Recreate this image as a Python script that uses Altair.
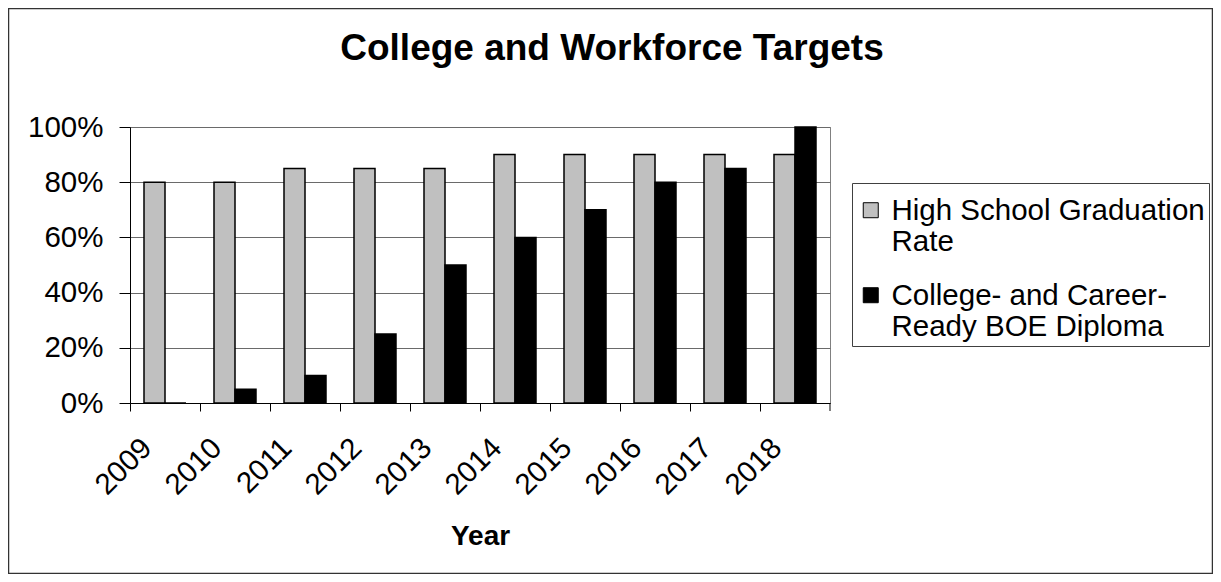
import altair as alt
import pandas as pd

years = ["2009", "2010", "2011", "2012", "2013", "2014", "2015", "2016", "2017", "2018"]
grad_rate = [0.80, 0.80, 0.85, 0.85, 0.85, 0.90, 0.90, 0.90, 0.90, 0.90]
diploma = [0.00, 0.05, 0.10, 0.25, 0.50, 0.60, 0.70, 0.80, 0.85, 1.00]
series = ["High School Graduation Rate", "College- and Career-Ready BOE Diploma"]
series_colors = ["#C0C0C0", "#000000"]
y_ticks = [0.0, 0.2, 0.4, 0.6, 0.8, 1.0]

rows = []
for i, yr in enumerate(years):
    rows.append({"Year": yr, "Series": series[0], "Value": grad_rate[i]})
    rows.append({"Year": yr, "Series": series[1], "Value": diploma[i]})
df = pd.DataFrame(rows)

FONT = "Liberation Sans"

label_expr = (
    "datum.label == 'High School Graduation Rate' ? ['High School Graduation', 'Rate'] : "
    "['College- and Career-', 'Ready BOE Diploma']"
)

bars = alt.Chart(df).mark_bar(stroke="black", strokeWidth=1.5).encode(
    x=alt.X(
        "Year:N",
        sort=years,
        scale=alt.Scale(paddingInner=0, paddingOuter=0),
        axis=alt.Axis(
            title="Year",
            bandPosition=0,
            labelAngle=315,
            labelAlign="right",
            labelBaseline="middle",
            labelOffset=-18,
            labelPadding=32,
            tickSize=8,
            labelFont=FONT,
            labelFontSize=29.5,
            labelColor="black",
            labelOverlap=False,
            titleFont=FONT,
            titleFontSize=28,
            titleFontWeight="bold",
            titleColor="black",
            titleY=141,
            titleBaseline="alphabetic",
            domainColor="black",
            tickColor="black",
            grid=False,
        ),
    ),
    xOffset=alt.XOffset(
        "Series:N", sort=series, scale=alt.Scale(paddingInner=0, paddingOuter=0.6667)
    ),
    y=alt.Y(
        "Value:Q",
        scale=alt.Scale(domain=[0, 1], nice=False),
        axis=alt.Axis(
            title=None,
            values=y_ticks,
            format=".0%",
            tickSize=11,
            labelPadding=16,
            labelFont=FONT,
            labelFontSize=29.5,
            labelColor="black",
            domainColor="black",
            tickColor="black",
            grid=True,
            gridColor="#6a6a6a",
            gridWidth=1,
        ),
    ),
    color=alt.Color(
        "Series:N",
        sort=series,
        scale=alt.Scale(domain=series, range=series_colors),
        legend=alt.Legend(
            title=" ",
            titleFontSize=8,
            titlePadding=10,
            orient="none",
            legendX=722,
            legendY=56,
            padding=4,
            strokeColor="#404040",
            fillColor="white",
            labelFont=FONT,
            labelFontSize=29.5,
            labelColor="black",
            labelLimit=600,
            labelBaseline="alphabetic",
            labelOffset=6,
            labelExpr=label_expr,
            symbolType="M-1,-2.27L1,-2.27L1,-0.27L-1,-0.27Z",
            symbolSize=225,
            symbolStrokeColor="black",
            symbolStrokeWidth=1,
            rowPadding=23,
        ),
    ),
)

frame = pd.DataFrame({"k": [0]})
border = alt.Chart(frame).mark_rect(filled=False, stroke="#333333", strokeWidth=1.5).encode(
    x=alt.value(-121.5), x2=alt.value(1082.5), y=alt.value(-118.5), y2=alt.value(446.5)
)
end_tick = alt.Chart(frame).mark_rule(color="black", strokeWidth=1).encode(
    x=alt.value(700), y=alt.value(276), y2=alt.value(284)
)

chart = (
    alt.layer(bars, end_tick, border)
    .properties(
        width=700,
        height=276,
        autosize=alt.AutoSizeParams(type="none"),
        padding={"left": 122, "top": 119, "right": 383, "bottom": 171},
        background="white",
        title=alt.TitleParams(
            "College and Workforce Targets",
            font=FONT,
            fontSize=37,
            fontWeight="bold",
            color="black",
            anchor="middle",
            frame="group",
            dx=132,
            dy=89,
            offset=0,
            baseline="alphabetic",
        ),
    )
    .configure_view(stroke="#808080", strokeWidth=1)
    .configure_legend(strokeWidth=1)
)

chart.save("out.html", embed_options={"renderer": "svg", "actions": False})
